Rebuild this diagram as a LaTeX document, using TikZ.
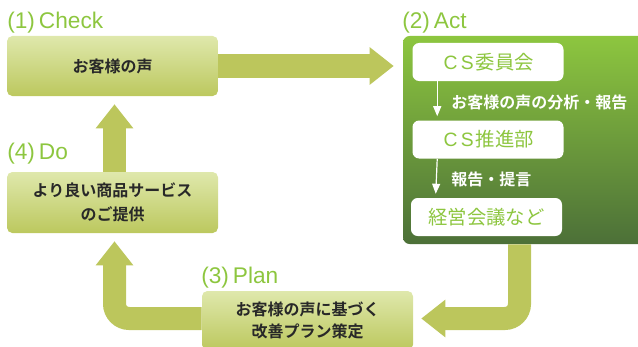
\documentclass[tikz,border=0pt]{standalone}
\usepackage{fontspec}
\setmainfont{Noto Sans CJK JP}[BoldFont={Noto Sans CJK JP Bold}]
\newfontfamily\lblfont{Liberation Sans}
\usetikzlibrary{arrows.meta}
\definecolor{lblgreen}{RGB}{141,198,63}
\definecolor{arrowc}{RGB}{188,198,92}
\definecolor{boxtop}{RGB}{223,232,172}
\definecolor{boxbot}{RGB}{188,200,94}
\definecolor{acttop}{RGB}{141,198,63}
\definecolor{actbot}{RGB}{76,112,56}
\definecolor{darktxt}{RGB}{40,40,40}
\newcommand\csl{\makebox[12.5pt]{\lblfont C}\makebox[12.5pt]{\lblfont S}}
\tikzset{
  stagebox/.style={rounded corners=4pt, top color=boxtop, bottom color=boxbot,
    minimum width=158.25pt, inner sep=0pt, text=darktxt, align=center,
    font=\fontsize{12pt}{15pt}\selectfont\bfseries},
  whitebox/.style={rounded corners=5pt, fill=white, minimum width=113.25pt,
    minimum height=28.5pt, inner sep=0pt, text=lblgreen,
    font=\fontsize{14.5pt}{17pt}\selectfont},
  stagelbl/.style={anchor=base west, inner sep=0pt, text=lblgreen,
    font=\fontsize{17pt}{19pt}\lblfont},
  actlbl/.style={anchor=west, inner sep=0pt, text=white,
    font=\fontsize{12pt}{14pt}\selectfont\bfseries},
  bigarrow/.style={draw=arrowc, line width=17.25pt, rounded corners=11pt,
    -{Triangle[width=27pt,length=18pt]}},
  whitearrow/.style={draw=white, line width=0.9pt, -{Triangle[width=6pt,length=7.5pt]}}
}
\begin{document}
\begin{tikzpicture}[x=0.75pt,y=-0.75pt]
\useasboundingbox (0,0) rectangle (638,346);
\clip (0,0) rectangle (638,346);
% big boxes
\node[stagebox, minimum height=45pt] (check) at (112.5,66) {お客様の声};
\node[stagebox, minimum height=45.75pt] (do) at (112.5,202.5) {より良い商品サービス\\[3pt]のご提供};
\node[stagebox, minimum height=44.25pt] (plan) at (307.5,320.5) {お客様の声に基づく\\[1.5pt]改善プラン策定};
\node[rounded corners=5pt, top color=acttop, bottom color=actbot, minimum width=185.25pt,
  minimum height=156pt, inner sep=0pt] (act) at (526.5,140) {};
% white boxes
\node[whitebox] (cs1) at (488,62) {\csl 委員会};
\node[whitebox] (cs2) at (488,139.5) {\csl 推進部};
\node[whitebox] (cs3) at (486.5,217) {経営会議など};
% inner arrows
\draw[whitearrow] ([xshift=18.75pt]cs1.south west) -- ([xshift=18.75pt,yshift=3pt]cs2.north west);
\draw[whitearrow] ([xshift=18.75pt]cs2.south west) -- ([xshift=18.75pt,yshift=3pt]cs3.north west);
\node[actlbl] (l1) at (451,102) {お客様の声の分析・報告};
\node[actlbl] (l2) at (451,179) {報告・提言};
% stage labels
\node[stagelbl] (t1) at (7,29) {(1)\kern3pt Check};
\node[stagelbl] (t2) at (402,29) {(2)\kern3pt Act};
\node[stagelbl] (t3) at (201,283) {(3)\kern3pt Plan};
\node[stagelbl] (t4) at (7,159) {(4)\kern3pt Do};
% big arrows
\coordinate (a1) at (519.5,318.5);
\coordinate (a2) at (114.5,318.5);
\draw[bigarrow] (check.east) -- ([xshift=-6.75pt]act.west |- check.east);
\draw[bigarrow] (act.south -| a1) -- (a1) -- ([xshift=6pt]plan.east |- a1);
\draw[bigarrow] (plan.west |- a2) -- (a2) -- ([yshift=-6pt]do.south -| a2);
\draw[bigarrow] (do.north -| a2) -- ([yshift=-6pt]check.south -| a2);
\end{tikzpicture}
\end{document}
